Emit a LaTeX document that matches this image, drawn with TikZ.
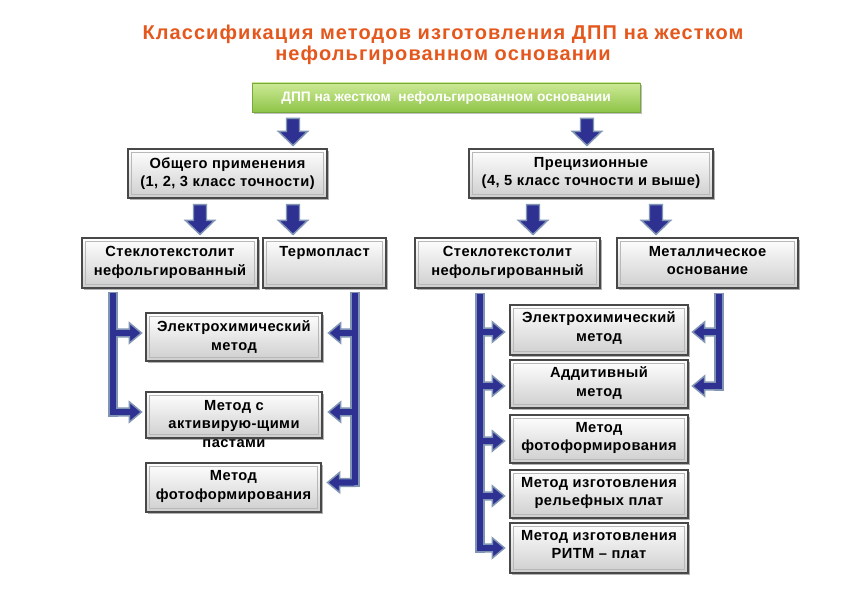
\documentclass[tikz,border=0pt]{standalone}
\usepackage{fontspec}
\setmainfont{Liberation Sans}
\newfontfamily\ttlfont[LetterSpace=5.5]{Liberation Sans}
\newfontfamily\boxfont[LetterSpace=3]{Liberation Sans}
\usetikzlibrary{calc,fit,shadows}
\definecolor{ttl}{RGB}{228,88,30}
\definecolor{ablue}{RGB}{46,49,146}
\definecolor{aedge}{RGB}{128,148,180}
\definecolor{gtop}{RGB}{205,234,150}
\definecolor{gbot}{RGB}{142,196,72}
\definecolor{gedge}{RGB}{118,168,58}
\definecolor{bbot}{RGB}{206,206,206}
\definecolor{bedge}{RGB}{72,72,72}
\tikzset{
 box/.style={draw=bedge, line width=0.8pt, top color=white, bottom color=bbot, inner sep=0pt,
   drop shadow={shadow xshift=1.6pt, shadow yshift=-1.6pt, fill=black!50, opacity=0.6},
   path picture={\draw[black!28, line width=0.5pt] ([shift={(2.4pt,-2.4pt)}]path picture bounding box.north west) rectangle ([shift={(-2.4pt,2.4pt)}]path picture bounding box.south east);}},
 gbox/.style={draw=gedge, line width=0.6pt, top color=gtop, bottom color=gbot, inner sep=0pt,
   drop shadow={shadow xshift=1.6pt, shadow yshift=-1.6pt, fill=black!50, opacity=0.5}},
 txt/.style={font=\boxfont\bfseries\fontsize{11pt}{13.8pt}\selectfont, align=center, inner sep=0pt, anchor=north, text=black},
 gtxt/.style={font=\bfseries\fontsize{10.3pt}{11pt}\selectfont, inner sep=0pt, text=white},
 ttltxt/.style={font=\ttlfont\bfseries\fontsize{15pt}{15.75pt}\selectfont, align=center, inner sep=0pt, text=ttl},
 barrow/.style={fill=ablue, draw=aedge, line width=1.1pt, line join=miter},
 busout/.style={draw=aedge, line width=7.2pt},
 busin/.style={draw=ablue, line width=4.6pt},
}
% down block arrow from #1 to #2
\newcommand\darr[2]{%
 \draw[barrow] ($(#1)+(-6.5,6)$) -- ($(#2)+(-6.5,-17)$) -- ($(#2)+(-14.5,-17)$) -- ($(#2)+(0,-3)$)
   -- ($(#2)+(14.5,-17)$) -- ($(#2)+(6.5,-17)$) -- ($(#1)+(6.5,6)$) -- cycle;}
% right-pointing arrow from bus #1 to anchor #2 shifted by (#3,#4)
\newcommand\rarr[4]{%
 \coordinate (tt) at ($(#2)+(#3,#4)$);
 \draw[barrow] ($(tt -| #1)+(0,-3.8)$) -- ($(tt)+(-12,-3.8)$) -- ($(tt)+(-12,-10)$) -- (tt)
   -- ($(tt)+(-12,10)$) -- ($(tt)+(-12,3.8)$) -- ($(tt -| #1)+(0,3.8)$) -- cycle;}
\newcommand\larr[4]{%
 \coordinate (tt) at ($(#2)+(#3,#4)$);
 \draw[barrow] ($(tt -| #1)+(0,-3.8)$) -- ($(tt)+(12,-3.8)$) -- ($(tt)+(12,-10)$) -- (tt)
   -- ($(tt)+(12,10)$) -- ($(tt)+(12,3.8)$) -- ($(tt -| #1)+(0,3.8)$) -- cycle;}
\begin{document}
\begin{tikzpicture}[x=0.75pt,y=-0.75pt]
\fill[white] (0,0) rectangle (850,595);
\useasboundingbox (0,0) rectangle (850,595);

\node[ttltxt] (title) at (443,45) {Классификация методов изготовления ДПП на жестком\\нефольгированном основании};

% boxes
\node[gbox, fit={(252,83) (640,112)}] (green) {};
\node[gtxt] (green-t) at (green.center) {ДПП на жестком\ \ нефольгированном основании};

\node[box, fit={(128,149) (327,198)}] (gen) {};
\node[box, fit={(469,149) (713,198)}] (prec) {};
\node[box, fit={(82,238) (258,288)}] (stl1) {};
\node[box, fit={(263,238) (386,288)}] (term) {};
\node[box, fit={(415,238) (600,288)}] (stl2) {};
\node[box, fit={(617,238) (798,288)}] (met) {};
\node[box, fit={(146,313) (322,361)}] (L1) {};
\node[box, fit={(146,392) (322,438)}] (L2) {};
\node[box, fit={(146,463) (321,512)}] (L3) {};
\node[box, fit={(510,305) (688,355)}] (R1) {};
\node[box, fit={(510,360) (688,408)}] (R2) {};
\node[box, fit={(510,415) (688,463)}] (R3) {};
\node[box, fit={(510,470) (688,518)}] (R4) {};
\node[box, fit={(510,523) (688,573)}] (R5) {};

\node[txt] (gen-t) at ([yshift=-6.5pt]gen.north) {Общего применения\\(1, 2, 3 класс точности)};
\node[txt] (prec-t) at ([yshift=-6.5pt]prec.north) {Прецизионные\\(4, 5 класс точности и выше)};
\node[txt] (stl1-t) at ([yshift=-6.5pt]stl1.north) {Стеклотекстолит\\нефольгированный};
\node[txt] (term-t) at ([yshift=-6.5pt]term.north) {Термопласт};
\node[txt] (stl2-t) at ([yshift=-6.5pt]stl2.north) {Стеклотекстолит\\нефольгированный};
\node[txt] (met-t) at ([yshift=-6.5pt]met.north) {Металлическое\\основание};
\node[txt] (L1-t) at ([yshift=-6pt]L1.north) {Электрохимический\\метод};
\node[txt] (L2-t) at ([yshift=-6.5pt]L2.north) {Метод с\\активирую-щими\\пастами};
\node[txt] (L3-t) at ([yshift=-6pt]L3.north) {Метод\\фотоформирования};
\node[txt] (R1-t) at ([yshift=-5.5pt]R1.north) {Электрохимический\\метод};
\node[txt] (R2-t) at ([yshift=-5.5pt]R2.north) {Аддитивный\\метод};
\node[txt] (R3-t) at ([yshift=-5.5pt]R3.north) {Метод\\фотоформирования};
\node[txt] (R4-t) at ([yshift=-5.5pt]R4.north) {Метод изготовления\\рельефных плат};
\node[txt] (R5-t) at ([yshift=-5.5pt]R5.north) {Метод изготовления\\РИТМ – плат};

% columns
\coordinate (c1) at (293,0);
\coordinate (c2) at (587,0);
\coordinate (c3) at (200,0);
\coordinate (c4) at (293,0);
\coordinate (c5) at (533,0);
\coordinate (c6) at (656,0);
\coordinate (b1) at (113,0);
\coordinate (b2) at (355,0);
\coordinate (b3) at (480,0);
\coordinate (b4) at (719,0);

% down arrows
\darr{green.south -| c1}{gen.north -| c1}
\darr{green.south -| c2}{prec.north -| c2}
\darr{gen.south -| c3}{stl1.north -| c3}
\darr{gen.south -| c4}{term.north -| c4}
\darr{prec.south -| c5}{stl2.north -| c5}
\darr{prec.south -| c6}{met.north -| c6}

% bus outlines
\draw[busout] ($(stl1.south -| b1)+(0,3)$) -- ($(L2.west -| b1)+(0,1.8)$);
\draw[busout] ($(term.south -| b2)+(0,3)$) -- ($(L3.east -| b2)+(0,-0.2)$);
\draw[busout] ($(stl2.south -| b3)+(0,4)$) -- ($(R5.west -| b3)+(0,4.8)$);
\draw[busout] ($(met.south -| b4)+(0,4)$) -- ($(R2.east -| b4)+(0,6.8)$);

% branch arrows
\rarr{b1}{L1.west}{-4}{-4}
\rarr{b1}{L2.west}{-4}{-3}
\larr{b2}{L1.east}{6}{-4}
\larr{b2}{L2.east}{6}{-3}
\larr{b2}{L3.east}{6}{-5}
\rarr{b3}{R1.west}{-5}{2}
\rarr{b3}{R2.west}{-5}{2}
\rarr{b3}{R3.west}{-5}{2}
\rarr{b3}{R4.west}{-5}{2}
\rarr{b3}{R5.west}{-5}{0}
\larr{b4}{R1.east}{4}{2}
\larr{b4}{R2.east}{4}{2}

% bus cores
\draw[busin] ($(stl1.south -| b1)+(0,4.5)$) -- ($(L2.west -| b1)+(0,-0.1)$);
\draw[busin] ($(term.south -| b2)+(0,4.5)$) -- ($(L3.east -| b2)+(0,-2.1)$);
\draw[busin] ($(stl2.south -| b3)+(0,5.5)$) -- ($(R5.west -| b3)+(0,2.9)$);
\draw[busin] ($(met.south -| b4)+(0,5.5)$) -- ($(R2.east -| b4)+(0,4.9)$);
\end{tikzpicture}
\end{document}
